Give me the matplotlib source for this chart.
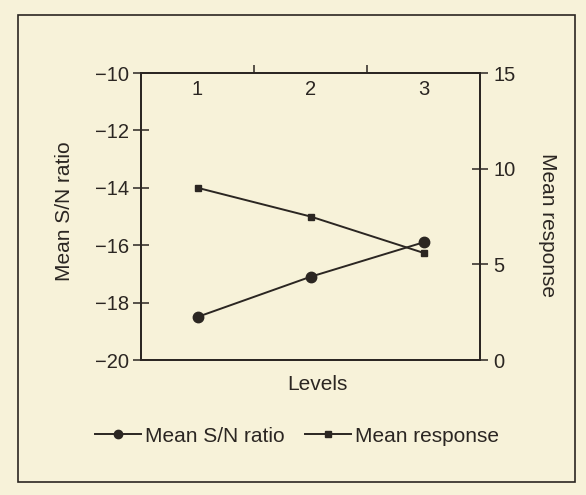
import numpy as np
import matplotlib
matplotlib.use('Agg')
import matplotlib.pyplot as plt
from matplotlib.patches import Rectangle
from matplotlib.lines import Line2D

plt.rcParams['font.family'] = ['Liberation Sans', 'DejaVu Sans']

# data
levels = [1, 2, 3]
level_labels = ['1', '2', '3']
sn_ratio = [-18.5, -17.1, -15.9]
mean_response = [9.0, 7.5, 5.6]

bg = '#f7f2d9'
ink = '#2b2622'
W, H = 586, 495

fig = plt.figure(figsize=(5.86, 4.95), dpi=100, facecolor=bg)
ax = fig.add_axes([141 / W, 1 - 360 / H, 339 / W, 287 / H], facecolor=bg)
ax2 = ax.twinx()

ax.plot(levels, sn_ratio, color=ink, lw=1.4, marker='o', ms=7.5, mfc=ink, mec=ink)
ax2.plot(levels, mean_response, color=ink, lw=1.4, marker='s', ms=5, mfc=ink, mec=ink)

ax.set_xlim(0.5, 3.5)
ax.set_ylim(-20, -10)
ax.set_yticks([-20, -18, -16, -14, -12, -10])
ax.set_yticklabels(['\u221220', '\u221218', '\u221216', '\u221214', '\u221212', '\u221210'])
ax2.set_ylim(0, 15)
ax2.set_yticks([0, 5, 10, 15])

# level labels sit inside under the top spine, boundary ticks point up
ax.xaxis.tick_top()
ax.set_xticks(levels)
ax.set_xticklabels(level_labels)
ax.set_xticks([1.5, 2.5], minor=True)
ax.tick_params(axis='x', which='major', length=0, pad=-19, labelsize=14.5, colors=ink)
ax.tick_params(axis='x', which='minor', length=6, width=1.1, direction='out', color=ink)
ax.tick_params(axis='y', length=11, width=1.1, direction='inout', labelsize=14.5, pad=3, colors=ink)
ax2.tick_params(axis='y', length=11, width=1.1, direction='inout', labelsize=14.5, pad=4, colors=ink)

for a in (ax, ax2):
    for s in a.spines.values():
        s.set_linewidth(1.3)
        s.set_color(ink)

fig.text(64 / W, 1 - 211 / H, 'Mean S/N ratio', fontsize=15, color=ink,
         rotation=90, ha='center', va='center')
fig.text(548 / W, 1 - 225 / H, 'Mean response', fontsize=15, color=ink,
         rotation=-90, ha='center', va='center')
fig.text(317 / W, 1 - 385 / H, 'Levels', fontsize=15, color=ink, ha='center', va='center')

handles = [
    Line2D([], [], color=ink, lw=1.4, marker='o', ms=6, mfc=ink, mec=ink),
    Line2D([], [], color=ink, lw=1.4, marker='s', ms=4.5, mfc=ink, mec=ink),
]
fig.legend(handles, ['Mean S/N ratio', 'Mean response'], loc='center',
           bbox_to_anchor=(297 / W, 1 - 436 / H), ncol=2, frameon=False,
           fontsize=15, handlelength=2.2, handletextpad=0.2, columnspacing=1.0,
           labelcolor=ink)

fig.patches.append(Rectangle((18 / W, 1 - 482 / H), 557 / W, 467 / H,
                             transform=fig.transFigure, fill=False,
                             edgecolor=ink, lw=1.2))

fig.savefig('out.png', dpi=100, facecolor=bg)
